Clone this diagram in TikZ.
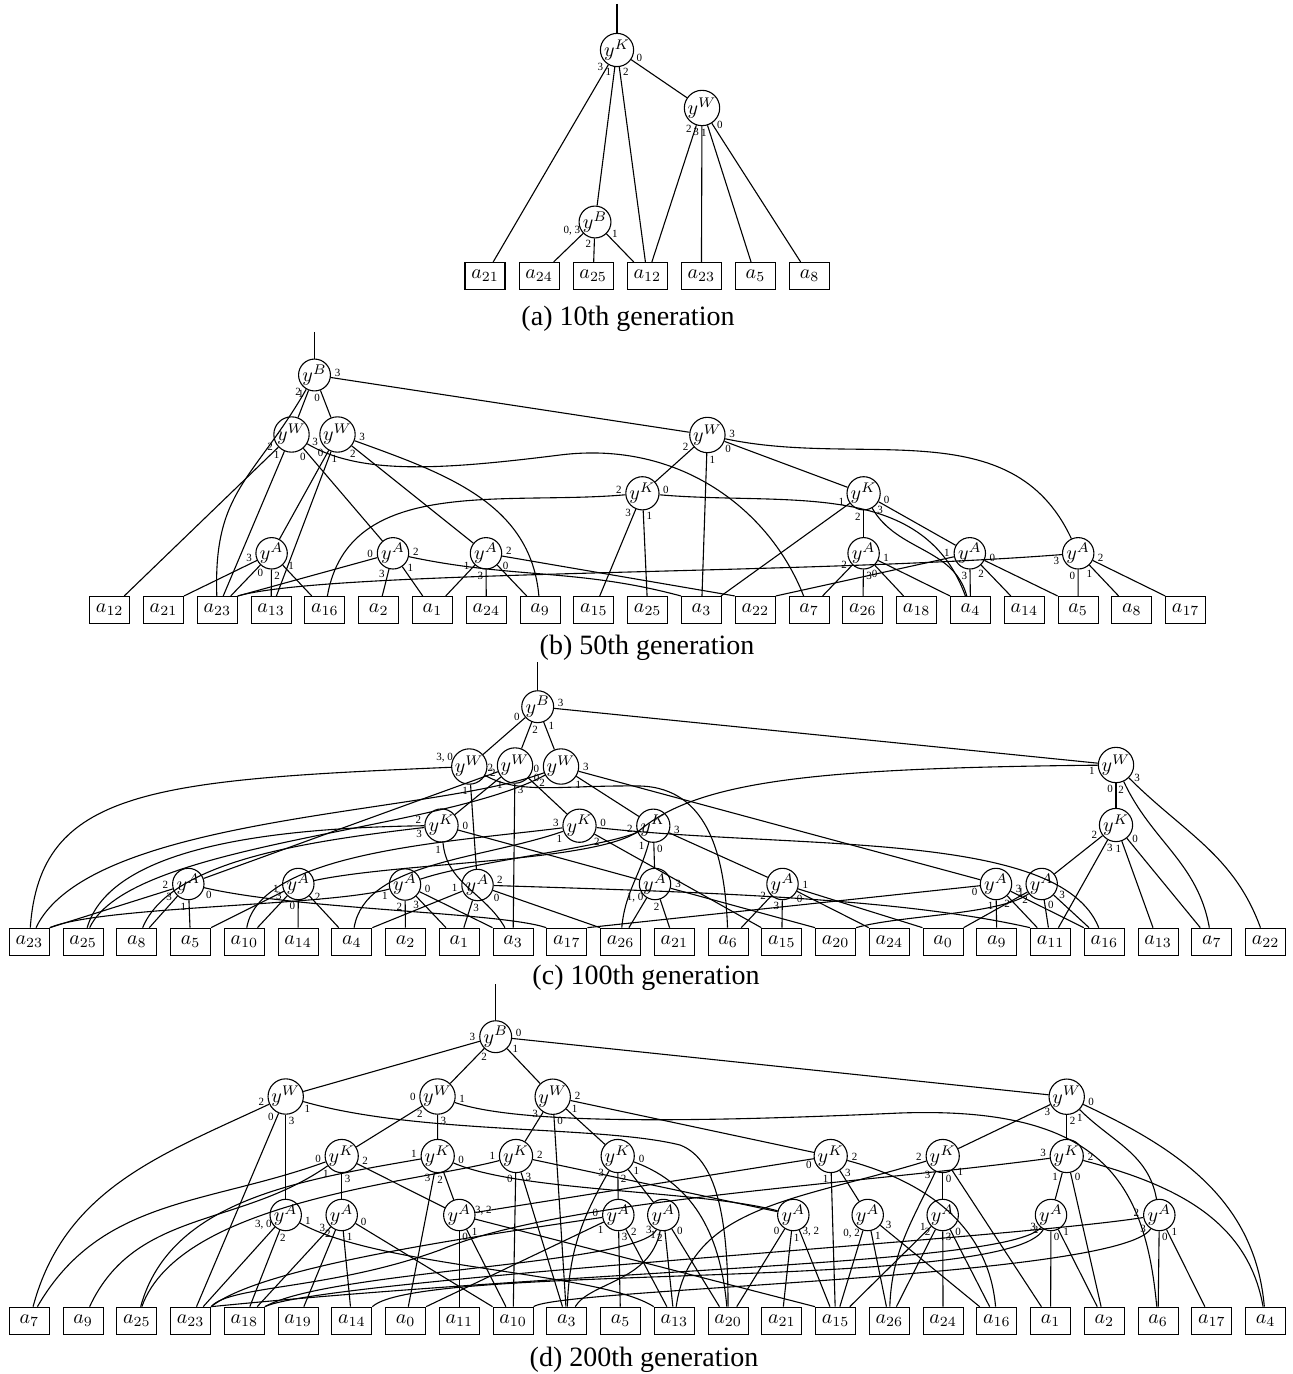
\documentclass[tikz,border=0pt]{standalone}
\usepackage[no-math]{fontspec}
\setmainfont{Liberation Serif}
\usetikzlibrary{decorations.markings}
\begin{document}
\begin{tikzpicture}[x=0.5pt,y=0.5pt,line width=0.55pt,
  gate/.style={circle,draw,minimum size=15.5pt,inner sep=0pt},
  leaf/.style={rectangle,draw,minimum width=20pt,minimum height=13.5pt,inner sep=0pt},
  lab/.style={inner sep=0pt,font=\fontsize{5.5}{6}\selectfont},
  pl/.style={postaction={decorate,decoration={markings,mark=at position 3pt with {\node[lab] at (0,-2.9pt) {#1};}}}},
  pr/.style={postaction={decorate,decoration={markings,mark=at position 3pt with {\node[lab] at (0,2.9pt) {#1};}}}},
  plw/.style={postaction={decorate,decoration={markings,mark=at position 3pt with {\node[lab] at (0,-5pt) {#1};}}}},
  prw/.style={postaction={decorate,decoration={markings,mark=at position 3pt with {\node[lab] at (0,5pt) {#1};}}}},
  subcap/.style={font=\fontsize{14}{16}\selectfont}]
\useasboundingbox (0,0) rectangle (1293,-1374);

\coordinate (aT) at (617,-4);
\node[gate] (aK) at (617,-50) {$y^K$};
\node[gate] (aW) at (702,-108) {$y^W$};
\node[gate] (aB) at (595,-222) {$y^B$};
\foreach \n [count=\i from 0] in {21,24,25,12,23,5,8}
  \node[leaf] (a\n) at ({485+54.1*\i},-276) {$a_{\n}$};
\draw (aT) -- (aK);
\draw[pl=3] (aK) -- (a21);
\draw[pl=1] (aK) -- (aB);
\draw[pr=2] (aK) -- (a12);
\draw[pr=0] (aK) -- (aW);
\draw[pl=2] (aW) -- (a12);
\draw[pl=3] (aW) -- (a23);
\draw[pl=1] (aW) -- (a5);
\draw[pr=0] (aW) -- (a8);
\draw[plw={0, 3}] (aB) -- (a24);
\draw[pl=2] (aB) -- (a25);
\draw[pr=1] (aB) -- (a12);
\node[subcap] (capA) at (628,-319) {(a)\ 10th generation};

\coordinate (bT) at (314.5,-332);
\node[gate] (bB) at (314.5,-375) {$y^B$};
\node[gate] (bW1) at (291.5,-434.5) {$y^W$};
\node[gate] (bW2) at (337.5,-434.5) {$y^W$};
\node[gate] (bW3) at (707.4,-435) {$y^W$};
\node[gate] (bK1) at (642.4,-493.3) {$y^K$};
\node[gate] (bK2) at (863.6,-493.3) {$y^K$};
\node[gate] (bA1) at (271.6,-553.3) {$y^A$};
\node[gate] (bA2) at (393,-553.3) {$y^A$};
\node[gate] (bA3) at (486,-553.3) {$y^A$};
\node[gate] (bA4) at (863.6,-553.3) {$y^A$};
\node[gate] (bA5) at (969.8,-553.3) {$y^A$};
\node[gate] (bA6) at (1078.2,-553.3) {$y^A$};
\foreach \n [count=\i from 0] in {12,21,23,13,16,2,1,24,9,15,25,3,22,7,26,18,4,14,5,8,17}
  \node[leaf] (b\n) at ({109.7+53.8*\i},-610) {$a_{\n}$};
\draw (bT) -- (bB);
\draw[pl=2] (bB) to[out=240,in=92,looseness=1.2] (b23);
\draw[pl=1] (bB) -- (bW1);
\draw[pl=0] (bB) -- (bW2);
\draw[pr=3] (bB) -- (bW3);
\draw[pl=2] (bW1) -- (b12);
\draw[pl=1] (bW1) -- (b23);
\draw[pl=0] (bW1) -- (bA2);
\draw[pr=3] (bW1) .. controls (360,-475) and (440,-470) .. (560,-455) .. controls (680,-440) and (770,-510) .. (b7);
\draw[pl=0] (bW2) -- (bA1);
\draw[pr=1] (bW2) -- (b13);
\draw[pl=2] (bW2) -- (bA3);
\draw[pr=3] (bW2) to[out=-20,in=95] (b9);
\draw[pl=2] (bW3) -- (bK1);
\draw[pr=1] (bW3) -- (b3);
\draw[pl=0] (bW3) -- (bK2);
\draw[pr=3] (bW3) to[out=-12,in=115] (bA6);
\draw[pl=2] (bK1) to[out=185,in=80] (b16);
\draw[pr=0] (bK1) to[out=-5,in=110] (b4);
\draw[pl=3] (bK1) -- (b15);
\draw[pr=1] (bK1) -- (b25);
\draw[pl=1] (bK2) -- (b3);
\draw[pl=2] (bK2) -- (bA4);
\draw[pr=3] (bK2) to[out=-60,in=105] (b4);
\draw[pr=0] (bK2) -- (bA5);
\draw[pl=3] (bA1) -- (b21.north east);
\draw[pr=0] (bA1) -- (b23);
\draw[pr=2] (bA1) -- (b13);
\draw[pr=1] (bA1) -- (b16);
\draw[pl=0] (bA2) -- (b23.north east);
\draw[pl=3] (bA2) -- (b2);
\draw[pr=1] (bA2) -- (b1);
\draw[pr=2] (bA2) to[out=-12,in=165] (b3.north west);
\draw[pl=1] (bA3) -- (b1);
\draw[pl=3] (bA3) -- (b24);
\draw[pr=0] (bA3) -- (b9);
\draw[pr=2] (bA3) -- (b22.north west);
\draw[pl=2] (bA4) -- (b7);
\draw[pr=3] (bA4) -- (b26);
\draw[pl=0] (bA4) -- (b18);
\draw[pr=1] (bA4) -- (b4.north west);
\draw[pl=1] (bA5) -- (b22.north east);
\draw[pl=3] (bA5) -- (b4);
\draw[pl=2] (bA5) -- (b14);
\draw[pr=0] (bA5) -- (b5.north west);
\draw[pr=3] (bA6) .. controls (800,-575) and (330,-570) .. (b23.north east);
\draw[pl=0] (bA6) -- (b5);
\draw[pl=1] (bA6) -- (b8);
\draw[pr=2] (bA6) -- (b17.north west);
\node[subcap] (capB) at (647,-648) {(b)\ 50th generation};

\coordinate (cT) at (537.7,-662);
\node[gate] (cB) at (537.7,-706.7) {$y^B$};
\node[gate] (cW1) at (469.3,-766.5) {$y^W$};
\node[gate] (cW2) at (515,-765.5) {$y^W$};
\node[gate] (cW3) at (561,-766.5) {$y^W$};
\node[gate] (cW4) at (1116,-765) {$y^W$};
\node[gate] (cK1) at (441.5,-825.5) {$y^K$};
\node[gate] (cK2) at (579.5,-825.7) {$y^K$};
\node[gate] (cK3) at (653.3,-825.7) {$y^K$};
\node[gate] (cK4) at (1116,-825) {$y^K$};
\node[gate] (cA1) at (188.3,-884) {$y^A$};
\node[gate] (cA2) at (298.3,-884) {$y^A$};
\node[gate] (cA3) at (405,-884.5) {$y^A$};
\node[gate] (cA4) at (477.5,-885) {$y^A$};
\node[gate] (cA5) at (655,-884) {$y^A$};
\node[gate] (cA6) at (782.5,-884) {$y^A$};
\node[gate] (cA7) at (996,-884) {$y^A$};
\node[gate] (cA8) at (1041.7,-884) {$y^A$};
\foreach \n [count=\i from 0] in {23,25,8,5,10,14,4,2,1,3,17,26,21,6,15,20,24,0,9,11,16,13,7,22}
  \node[leaf] (c\n) at ({29.3+53.75*\i},-941.7) {$a_{\n}$};
\draw (cT) -- (cB);
\draw[pl=0] (cB) -- (cW1);
\draw[pr=2] (cB) -- (cW2);
\draw[pr=1] (cB) -- (cW3);
\draw[pr=3] (cB) -- (cW4);
\draw[plw={3, 0}] (cW1) .. controls (150,-780) and (40,-790) .. (c23);
\draw[pr=2] (cW1) .. controls (520,-795) and (560,-785) .. (640,-786) .. controls (710,-788) and (725,-860) .. (c6);
\draw[pl=1] (cW1) -- (cA4);
\draw[pl=2] (cW2) -- (cA1);
\draw[pr=1] (cW2) -- (cK1);
\draw[pr=3] (cW2) -- (c3);
\draw[pr=0] (cW2) -- (cK2);
\draw[pl=0] (cW3) .. controls (430,-815) and (90,-815) .. (c23);
\draw[pr=2] (cW3) .. controls (440,-832) and (130,-842) .. (c25);
\draw[pl=1] (cW3) -- (cK3);
\draw[pr=3] (cW3) -- (cA7);
\draw[pr=1] (cW4) .. controls (820,-768) and (700,-780) .. (640,-830) .. controls (600,-862) and (400,-862) .. (cA2);
\draw[pl=0] (cW4) -- (cK4);
\draw[pl=2] (cW4) to[out=-65,in=100] (c7);
\draw[pr=3] (cW4) to[out=-45,in=110] (c22);
\draw[pl=2] (cK1) .. controls (260,-828) and (110,-850) .. (c25);
\draw[pr=3] (cK1) .. controls (300,-842) and (170,-862) .. (c8);
\draw[pl=1] (cK1) to[out=-85,in=120] (c3);
\draw[pr=0] (cK1) -- (cA5);
\draw[pl=3] (cK2) .. controls (450,-842) and (260,-852) .. (c10);
\draw[pr=1] (cK2) .. controls (480,-860) and (365,-862) .. (c4);
\draw[pr=0] (cK2) .. controls (800,-850) and (1060,-830) .. (c16);
\draw[pl=2] (cK2) -- (c15.north west);
\draw[pl=2] (cK3) .. controls (600,-848) and (470,-862) .. (cA3);
\draw[pl=1] (cK3) to[out=-105,in=85] (c26);
\draw[pr=0] (cK3) -- (cA5);
\draw[pr=3] (cK3) -- (cA6);
\draw[pl=2] (cK4) -- (cA8);
\draw[pr=3] (cK4) -- (c11);
\draw[pl=1] (cK4) -- (c13);
\draw[pr=0] (cK4) -- (c7);
\draw[pl=2] (cA1) -- (c23.north east);
\draw[pl=3] (cA1) -- (c8);
\draw[pl=1] (cA1) -- (c5);
\draw[pl=0] (cA1) .. controls (300,-910) and (500,-912) .. (c17.north west);
\draw[pl=1] (cA2) -- (c5.north east);
\draw[pl=3] (cA2) -- (c10);
\draw[pl=0] (cA2) -- (c14);
\draw[pr=2] (cA2) -- (c4);
\draw[pr=1] (cA3) .. controls (330,-906) and (100,-906) .. (c23.north east);
\draw[pl=2] (cA3) -- (c2);
\draw[pl=3] (cA3) -- (c1);
\draw[pr=0] (cA3) -- (c3.north west);
\draw[pl=1] (cA4) -- (c4.north east);
\draw[pr=3] (cA4) -- (c1);
\draw[pl=0] (cA4) -- (c26.north west);
\draw[pr=2] (cA4) .. controls (700,-892) and (900,-898) .. (c11.north west);
\draw[plw={1, 0}] (cA5) -- (c26);
\draw[pl=2] (cA5) -- (c21);
\draw[pr=3] (cA5) -- (c20.north west);
\draw[pl=2] (cA6) -- (c6);
\draw[pl=3] (cA6) -- (c15);
\draw[pl=0] (cA6) -- (c24.north west);
\draw[pr=1] (cA6) -- (c0.north west);
\draw[pr=0] (cA7) -- (c17.north east);
\draw[pl=1] (cA7) -- (c9);
\draw[pl=2] (cA7) -- (c11);
\draw[pr=3] (cA7) -- (c16.north west);
\draw[pl=1] (cA8) .. controls (1000,-915) and (900,-915) .. (c20.north east);
\draw[pr=2] (cA8) -- (c0.north east);
\draw[pr=0] (cA8) -- (c11);
\draw[pr=3] (cA8) -- (c16);
\node[subcap] (capC) at (646,-978) {(c)\ 100th generation};

\coordinate (dT) at (495.7,-984);
\node[gate] (dB) at (495.7,-1036.7) {$y^B$};
\node[gate] (dW1) at (285.7,-1096.5) {$y^W$};
\node[gate,label={[lab,label distance=1.5pt]180:0}] (dW2) at (437.5,-1096.5) {$y^W$};
\node[gate] (dW3) at (552.7,-1096.7) {$y^W$};
\node[gate] (dW4) at (1066.7,-1096.7) {$y^W$};
\node[gate] (dK1) at (341.7,-1156) {$y^K$};
\node[gate] (dK2) at (437.7,-1156) {$y^K$};
\node[gate] (dK3) at (516,-1156) {$y^K$};
\node[gate] (dK4) at (617.7,-1156) {$y^K$};
\node[gate] (dK5) at (830.7,-1156) {$y^K$};
\node[gate] (dK6) at (942.7,-1156) {$y^K$};
\node[gate] (dK7) at (1066.7,-1156) {$y^K$};
\node[gate] (dA1) at (285.7,-1215) {$y^A$};
\node[gate] (dA2) at (341.7,-1215) {$y^A$};
\node[gate] (dA3) at (459.3,-1215) {$y^A$};
\node[gate] (dA4) at (618.3,-1215) {$y^A$};
\node[gate] (dA5) at (663.3,-1215) {$y^A$};
\node[gate] (dA6) at (793.3,-1215) {$y^A$};
\node[gate] (dA7) at (867.7,-1215) {$y^A$};
\node[gate] (dA8) at (942.7,-1215) {$y^A$};
\node[gate] (dA9) at (1051,-1215) {$y^A$};
\node[gate] (dA10) at (1159.3,-1215) {$y^A$};
\foreach \n [count=\i from 0] in {7,9,25,23,18,19,14,0,11,10,3,5,13,20,21,15,26,24,16,1,2,6,17,4}
  \node[leaf] (d\n) at ({29.3+53.75*\i},-1320.7) {$a_{\n}$};
\draw (dT) -- (dB);
\draw[pl=3] (dB) -- (dW1);
\draw[pr=2] (dB) -- (dW2);
\draw[pr=1] (dB) -- (dW3);
\draw[pr=0] (dB) -- (dW4);
\draw[pl=2] (dW1) to[out=205,in=75] (d7);
\draw[pl=0] (dW1) -- (d23);
\draw[pr=3] (dW1) -- (dA1);
\draw[pl=1] (dW1) .. controls (420,-1135) and (600,-1125) .. (680,-1145) .. controls (720,-1160) and (728,-1230) .. (d20);
\draw[pr=2] (dW2) -- (dK1);
\draw[pr=3] (dW2) -- (dK2);
\draw[pr=1] (dW2) .. controls (520,-1125) and (700,-1122) .. (900,-1113) .. controls (1100,-1106) and (1145,-1180) .. (d6);
\draw[pl=3] (dW3) -- (dK3);
\draw[pr=0] (dW3) -- (d3);
\draw[pr=1] (dW3) -- (dK4);
\draw[pr=2] (dW3) -- (dK5);
\draw[pr=3] (dW4) -- (dK6);
\draw[pr=2] (dW4) -- (dK7);
\draw[pl=1] (dW4) to[out=-45,in=100] (dA10);
\draw[pr=0] (dW4) to[out=-25,in=95] (d4);
\draw[pl=0] (dK1) to[out=200,in=60] (d7);
\draw[pr=1] (dK1) to[out=215,in=65] (d9);
\draw[pr=3] (dK1) -- (dA2);
\draw[pr=2] (dK1) -- (dA3);
\draw[pl=1] (dK2) .. controls (300,-1180) and (170,-1200) .. (d25);
\draw[pl=3] (dK2) -- (d0);
\draw[pl=2] (dK2) -- (dA3);
\draw[pr=0] (dK2) .. controls (520,-1192) and (700,-1190) .. (dA6);
\draw[pl=1] (dK3) .. controls (420,-1182) and (180,-1200) .. (d25);
\draw[pl=0] (dK3) -- (d10);
\draw[pr=3] (dK3) -- (d3);
\draw[pr=2] (dK3) -- (dA6);
\draw[pl=3] (dK4) to[out=240,in=88] (d3);
\draw[pr=2] (dK4) -- (dA4);
\draw[pr=1] (dK4) -- (dA5);
\draw[pr=0] (dK4) to[out=-20,in=95] (d20);
\draw[pr=0] (dK5) -- (dA3);
\draw[pl=1] (dK5) -- (d15);
\draw[pr=3] (dK5) -- (dA7);
\draw[pr=2] (dK5) to[out=-15,in=95] (d16);
\draw[pl=2] (dK6) .. controls (800,-1200) and (690,-1205) .. (d13);
\draw[pl=3] (dK6) to[out=245,in=88] (d26);
\draw[pr=0] (dK6) -- (dA8);
\draw[pr=1] (dK6) -- (d1);
\draw[pl=3] (dK7) .. controls (850,-1185) and (560,-1200) .. (440,-1250) .. controls (330,-1290) and (230,-1285) .. (d23.north east);
\draw[pl=1] (dK7) -- (dA9);
\draw[pr=0] (dK7) -- (d2);
\draw[pr=2] (dK7) to[out=-15,in=100] (d4);
\draw[plw={3, 0}] (dA1) -- (d23);
\draw[pr=2] (dA1) -- (d18);
\draw[pr=1] (dA1) .. controls (380,-1268) and (600,-1272) .. (d13.north west);
\draw[pl=3] (dA2) -- (d18);
\draw[pl=2] (dA2) -- (d19);
\draw[pr=1] (dA2) -- (d14);
\draw[pr=0] (dA2) -- (d10.north west);
\draw[pr=0] (dA3) -- (d11);
\draw[pr=1] (dA3) -- (d10);
\draw[prw={3, 2}] (dA3) -- (d15.north west);
\draw[pl=0] (dA4) .. controls (450,-1240) and (260,-1268) .. (d23.north east);
\draw[pr=1] (dA4) -- (d0.north east);
\draw[pr=3] (dA4) -- (d5);
\draw[pr=2] (dA4) -- (d13);
\draw[pl=3] (dA5) .. controls (640,-1265) and (330,-1270) .. (d18.north east);
\draw[pl=1] (dA5) .. controls (650,-1282) and (590,-1282) .. (d3);
\draw[pl=2] (dA5) -- (d13);
\draw[pr=0] (dA5) -- (d20);
\draw[pl=0] (dA6) -- (d20);
\draw[pr=1] (dA6) -- (d21);
\draw[prw={3, 2}] (dA6) -- (d15);
\draw[plw={0, 2}] (dA7) -- (d15);
\draw[pr=1] (dA7) -- (d26);
\draw[pr=3] (dA7) -- (d16);
\draw[pl=1] (dA8) -- (d15);
\draw[pl=2] (dA8) -- (d26);
\draw[pr=3] (dA8) -- (d24);
\draw[pr=0] (dA8) -- (d16);
\draw[pl=3] (dA9) .. controls (1010,-1265) and (600,-1268) .. (d23.north east);
\draw[pl=2] (dA9) .. controls (1010,-1292) and (420,-1262) .. (d14.north east);
\draw[pr=0] (dA9) -- (d1);
\draw[pr=1] (dA9) -- (d2);
\draw[pl=2] (dA10) .. controls (1000,-1240) and (320,-1280) .. (d18.north east);
\draw[pl=3] (dA10) .. controls (1120,-1278) and (560,-1288) .. (d10.north east);
\draw[pr=0] (dA10) -- (d6);
\draw[pr=1] (dA10) -- (d17);
\node[subcap] (capD) at (644,-1360) {(d)\ 200th generation};
\end{tikzpicture}
\end{document}
